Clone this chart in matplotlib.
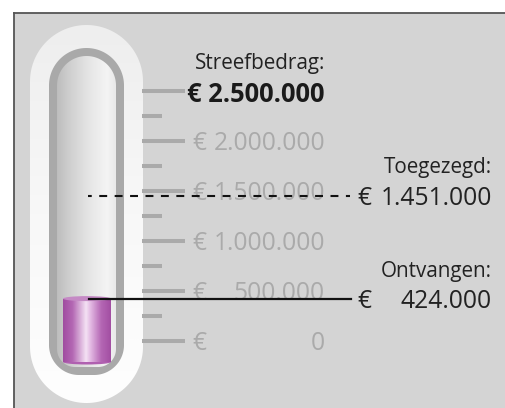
import matplotlib
matplotlib.use("Agg")
import matplotlib.pyplot as plt
import numpy as np
from matplotlib.patches import Polygon, Rectangle, Ellipse
from matplotlib.colors import LinearSegmentedColormap

plt.rcParams['font.family'] = ['Open Sans', 'DejaVu Sans']

# data
goal = 2500000
pledged = 1451000
received = 424000
scale_major = [0, 500000, 1000000, 1500000, 2000000, 2500000]
scale_minor = [250000, 750000, 1250000, 1750000, 2250000]
major_labels = ['0', '500.000', '1.000.000', '1.500.000', '2.000.000', '2.500.000']
title_goal = 'Streefbedrag:'
title_pledged = 'Toegezegd:'
title_received = 'Ontvangen:'

VAL_FS = 17.7
TITLE_FS = 14.9
DY = -30000  # nudge text centre down onto its line


def fmt(v):
    return f'{v:,}'.replace(',', '.')


def capsule(x0, x1, ytop, ybot, rbot, n=60):
    r = (x1 - x0) / 2
    cx = (x0 + x1) / 2
    t = np.linspace(np.pi, 0, n)
    pts = [np.column_stack([cx + r * np.cos(t), ytop + r - r * np.sin(t)])]
    t = np.linspace(0, -np.pi / 2, n)
    pts.append(np.column_stack([x1 - rbot + rbot * np.cos(t), ybot - rbot - rbot * np.sin(t)]))
    t = np.linspace(-np.pi / 2, -np.pi, n)
    pts.append(np.column_stack([x0 + rbot + rbot * np.cos(t), ybot - rbot - rbot * np.sin(t)]))
    return np.vstack(pts)


def grad_fill(axis, poly, extent, stops, vertical=False):
    cmap = LinearSegmentedColormap.from_list('g', stops)
    g = np.linspace(0, 1, 256)
    img = g[:, None] if vertical else g[None, :]
    im = axis.imshow(img, cmap=cmap, extent=extent, aspect='auto', zorder=poly.get_zorder(),
                     interpolation='bilinear')
    im.set_clip_path(poly)


fig = plt.figure(figsize=(5.06, 4.08), dpi=100)

# background layer in pixel coords
ax_bg = fig.add_axes([0, 0, 1, 1])
ax_bg.set_xlim(0, 506)
ax_bg.set_ylim(408, 0)
ax_bg.axis('off')
ax_bg.add_patch(Rectangle((14, 13), 492, 395, facecolor='#d4d4d4', edgecolor='none'))
ax_bg.plot([14, 506], [13, 13], color='#555555', lw=1.3)
ax_bg.plot([14, 14], [13, 408], color='#555555', lw=1.3)

outer = Polygon(capsule(30, 143, 25, 403, 56.5), closed=True, facecolor='none', edgecolor='none', zorder=2)
ax_bg.add_patch(outer)
grad_fill(ax_bg, outer, [30, 143, 403, 25], ['#eeeeee', '#f8f8f8', '#fefefe'], vertical=True)
ring = Polygon(capsule(49, 124, 48, 375, 30), closed=True, facecolor='#a9a9a9', edgecolor='none', zorder=3)
ax_bg.add_patch(ring)
inner = Polygon(capsule(57, 116, 56, 367, 18), closed=True, facecolor='none', edgecolor='none', zorder=4)
ax_bg.add_patch(inner)
grad_fill(ax_bg, inner, [57, 116, 367, 56],
          [(0, '#bdbdbd'), (0.2, '#cecece'), (0.55, '#e6e6e6'), (0.85, '#f4f4f4'), (1, '#e9e9e9')])

# value layer: x in pixels, y in euro
ax = fig.add_axes([0, 0, 1, 1])
ax.set_xlim(0, 506)
ax.set_ylim(-670000, 3410000)
ax.patch.set_alpha(0)
ax.axis('off')

# scale ticks
for v in scale_major:
    ax.plot([142, 185], [v, v], color='#aaaaaa', lw=2.9, solid_capstyle='butt', zorder=2)
for v in scale_minor:
    ax.plot([142, 162], [v, v], color='#aaaaaa', lw=2.9, solid_capstyle='butt', zorder=2)
for v, lab in zip(scale_major[:-1], major_labels[:-1]):
    ax.text(192, v + DY, '€', color='#aaaaaa', fontsize=VAL_FS, ha='left', va='center', zorder=3)
    ax.text(325, v + DY, lab, color='#aaaaaa', fontsize=VAL_FS, ha='right', va='center', zorder=3)

ax.text(325, goal + 300000 + DY, title_goal, color='#222222', fontsize=TITLE_FS, ha='right', va='center')
ax.text(325, goal + DY, '€ ' + fmt(goal), color='#1a1a1a', fontsize=18.4, fontweight='bold',
        ha='right', va='center', zorder=3)

# cylinder (received amount)
cyl_bottom = -210000
cyl = Polygon([[63, cyl_bottom], [111, cyl_bottom], [111, received], [63, received]],
              closed=True, facecolor='none', edgecolor='none', zorder=5)
ax.add_patch(cyl)
grad_fill(ax, cyl, [63, 111, cyl_bottom, received],
          [(0, '#a04ca0'), (0.2, '#b468b4'), (0.48, '#f4e2f4'), (0.58, '#e2b8e2'),
           (0.8, '#b466b4'), (1, '#a24ea2')])
ax.add_patch(Ellipse((87, cyl_bottom), 48, 50000, facecolor='#b060b0', edgecolor='none', zorder=4))
ax.add_patch(Ellipse((87, received), 48, 50000, facecolor='#c58ac5', edgecolor='none', zorder=6))

# pledged and received markers
ax.plot([88, 350], [pledged, pledged], color='#111111', lw=1.5, ls=(2.0, (3.8, 3.6)), zorder=7)
ax.plot([89, 351], [received, received], color='#111111', lw=1.6, zorder=7)

ax.text(492, pledged + 310000 + DY, title_pledged, color='#222222', fontsize=TITLE_FS, ha='right', va='center')
ax.text(357, pledged + DY, '€', color='#222222', fontsize=VAL_FS, ha='left', va='center')
ax.text(492, pledged + DY, fmt(pledged), color='#222222', fontsize=VAL_FS, ha='right', va='center')
ax.text(492, received + 300000 + DY, title_received, color='#222222', fontsize=TITLE_FS, ha='right', va='center')
ax.text(357, received + DY, '€', color='#222222', fontsize=VAL_FS, ha='left', va='center')
ax.text(492, received + DY, fmt(received), color='#222222', fontsize=VAL_FS, ha='right', va='center')

ax.set_xlim(0, 506)
ax.set_ylim(-670000, 3410000)
ax_bg.set_xlim(0, 506)
ax_bg.set_ylim(408, 0)

fig.savefig('out.png', dpi=100)
